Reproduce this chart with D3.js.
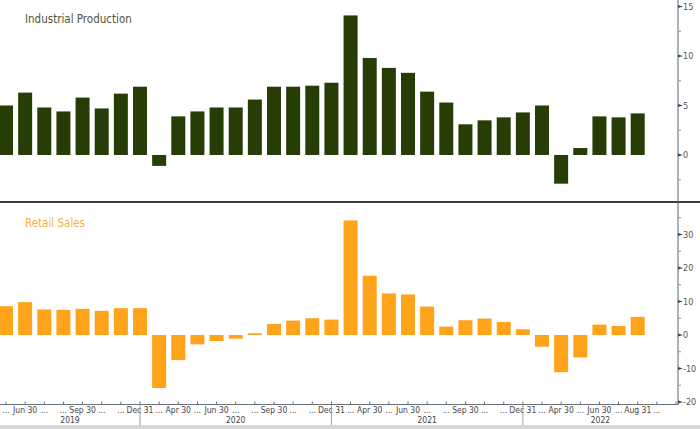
<!DOCTYPE html>
<html>
<head>
<meta charset="utf-8">
<script src="https://cdn.jsdelivr.net/npm/d3@7"></script>
<style>
  body { margin: 0; background: #fff; }
  svg { display: block; font-family: "DejaVu Sans Condensed", "Liberation Sans", sans-serif; }
</style>
</head>
<body>
<div id="chart"></div>
<script>
let width = 700,
height = 429,
axisX = 678;

// one slot per monthly release (Jan/Feb are skipped), plus one empty slot at the end
let periods = ["2019-05","2019-06","2019-07","2019-08","2019-09","2019-10","2019-11","2019-12",
  "2020-03","2020-04","2020-05","2020-06","2020-07","2020-08","2020-09","2020-10","2020-11","2020-12",
  "2021-03","2021-04","2021-05","2021-06","2021-07","2021-08","2021-09","2021-10","2021-11","2021-12",
  "2022-03","2022-04","2022-05","2022-06","2022-07","2022-08"];

let indProd = [5.0, 6.3, 4.8, 4.4, 5.8, 4.7, 6.2, 6.9,
  -1.1, 3.9, 4.4, 4.8, 4.8, 5.6, 6.9, 6.9, 7.0, 7.3,
  14.1, 9.8, 8.8, 8.3, 6.4, 5.3, 3.1, 3.5, 3.8, 4.3,
  5.0, -2.9, 0.7, 3.9, 3.8, 4.2];

let retail = [8.6, 9.8, 7.6, 7.5, 7.8, 7.2, 8.0, 8.0,
  -15.8, -7.5, -2.8, -1.8, -1.1, 0.5, 3.3, 4.3, 5.0, 4.6,
  34.2, 17.7, 12.4, 12.1, 8.5, 2.5, 4.4, 4.9, 3.9, 1.7,
  -3.5, -11.1, -6.7, 3.1, 2.7, 5.4];

let tickLabels = ["...","Jun 30","...","...","Sep 30","...","...","Dec 31",
  "...","Apr 30","...","Jun 30","...","...","Sep 30","...","...","Dec 31",
  "...","Apr 30","...","Jun 30","...","...","Sep 30","...","...","Dec 31",
  "...","Apr 30","...","Jun 30","...","Aug 31","..."];

let years = ["2019", "2020", "2021", "2022"];
let yearEnds = [7, 17, 27]; // slot index of each Dec 31

let topTicks = [15, 10, 5, 0];
let topMinor = [12.5, 7.5, 2.5, -2.5];
let botTicks = [30, 20, 10, 0, -10, -20];
let botMinor = [35, 25, 15, 5, -5, -15];

let svg = d3.select("#chart")
    .append("svg")
    .attr("width", width)
    .attr("height", height);

// x: slot index -> bar centre
let x = d3.scaleLinear()
    .domain([0, 35])
    .range([6, 676]);
let barW = 14;

// two panels sharing the x axis
let yTop = d3.scaleLinear()
    .domain([-4.65, 15.66])
    .range([201, 0]);
let yBot = d3.scaleLinear()
    .domain([-20.6, 39.4])
    .range([404, 203]);

let plot = svg.append("g");
plot.append("clipPath").attr("id", "clip")
  .append("rect").attr("x", 0).attr("y", 0).attr("width", axisX).attr("height", 405);

//industrial production bars
plot.append("g").attr("clip-path", "url(#clip)")
  .selectAll("rect")
  .data(indProd)
  .enter()
  .append("rect")
  .attr("x", (d, i) => x(i) - barW / 2)
  .attr("width", barW)
  .attr("y", d => yTop(Math.max(0, d)))
  .attr("height", d => Math.abs(yTop(d) - yTop(0)))
  .style("fill", "#263d05");

//retail sales bars
plot.append("g").attr("clip-path", "url(#clip)")
  .selectAll("rect")
  .data(retail)
  .enter()
  .append("rect")
  .attr("x", (d, i) => x(i) - barW / 2)
  .attr("width", barW)
  .attr("y", d => yBot(Math.max(0, d)))
  .attr("height", d => Math.abs(yBot(d) - yBot(0)))
  .style("fill", "#ffa31a");

// titles
svg.append("text")
  .attr("x", 25).attr("y", 23)
  .style("font-size", "11.5px")
  .style("fill", "#4a5637")
  .text("Industrial Production");
svg.append("text")
  .attr("x", 25).attr("y", 227)
  .style("font-size", "11.5px")
  .style("fill", "#f7b048")
  .text("Retail Sales");

// panel separator
svg.append("line")
  .attr("x1", 0).attr("x2", width)
  .attr("y1", 202).attr("y2", 202)
  .style("stroke", "#3a3a3a")
  .style("stroke-width", 2.2);

// right y axis line
svg.append("line")
  .attr("x1", axisX).attr("x2", axisX)
  .attr("y1", 0).attr("y2", 405)
  .style("stroke", "#5a6570")
  .style("stroke-width", 1);

function yAxis(scale, major, minor) {
  let g = svg.append("g");
  g.selectAll(".maj")
    .data(major)
    .enter()
    .append("path")
    .attr("d", d => "M" + axisX + "," + (scale(d) - 1.5) + "L" + (axisX + 5) + "," + scale(d) + "L" + axisX + "," + (scale(d) + 1.5) + "Z")
    .style("fill", "#3d4650");
  g.selectAll(".mn")
    .data(minor)
    .enter()
    .append("line")
    .attr("x1", axisX).attr("x2", axisX + 3)
    .attr("y1", d => scale(d)).attr("y2", d => scale(d))
    .style("stroke", "#8a949c");
  g.selectAll("text")
    .data(major)
    .enter()
    .append("text")
    .attr("x", axisX + 5)
    .attr("y", d => scale(d) + 3.3)
    .style("font-size", "9px")
    .style("fill", "#555")
    .text(d => d < 0 ? "-" + Math.abs(d) : d);
}
yAxis(yTop, topTicks, topMinor);
yAxis(yBot, botTicks, botMinor);

// x axis
svg.append("line")
  .attr("x1", 0).attr("x2", axisX)
  .attr("y1", 404.5).attr("y2", 404.5)
  .style("stroke", "#6a737a");

svg.selectAll(".xtick")
  .data(d3.range(36))
  .enter()
  .append("line")
  .attr("x1", d => x(d)).attr("x2", d => x(d))
  .attr("y1", 401.5).attr("y2", 404.5)
  .style("stroke", "#6a737a");

svg.selectAll(".xlab")
  .data(tickLabels)
  .enter()
  .append("text")
  .attr("x", (d, i) => x(i))
  .attr("y", 413)
  .attr("text-anchor", "middle")
  .style("font-size", "8.5px")
  .style("fill", "#444")
  .text(d => d);

// year bands
let bounds = [0].concat(yearEnds.map(i => x(i))).concat([axisX]);
svg.selectAll(".ysep")
  .data(yearEnds)
  .enter()
  .append("line")
  .attr("x1", d => x(d)).attr("x2", d => x(d))
  .attr("y1", 405).attr("y2", 425)
  .style("stroke", "#9aa0a5");

svg.selectAll(".year")
  .data(years)
  .enter()
  .append("text")
  .attr("x", (d, i) => (bounds[i] + bounds[i + 1]) / 2)
  .attr("y", 423)
  .attr("text-anchor", "middle")
  .style("font-size", "8.5px")
  .style("fill", "#444")
  .text(d => d);

// bottom grey strip
svg.append("rect")
  .attr("x", 0).attr("y", 425)
  .attr("width", width).attr("height", 4)
  .style("fill", "#d6d6d6");
</script>
</body>
</html>
